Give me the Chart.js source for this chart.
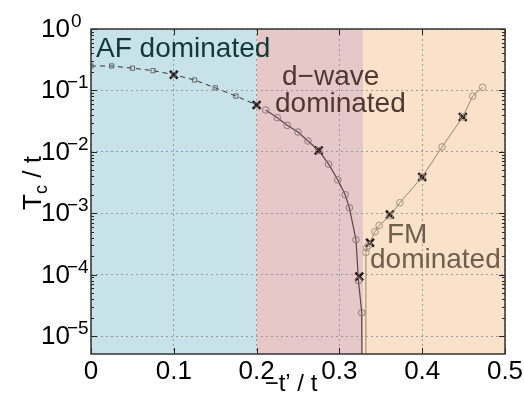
<!DOCTYPE html>
<html>
<head>
<meta charset="utf-8">
<script src="https://cdn.jsdelivr.net/npm/chart.js@4.4.1/dist/chart.umd.min.js"></script>
<style>
  body { margin: 0; background: #fff; }
  canvas { display: block; }
</style>
</head>
<body>
<canvas id="myChart" width="524" height="403"></canvas>
<script>
// AF branch (dashed, square markers)
const afX = [0, 0.025, 0.05, 0.075, 0.1, 0.125, 0.15, 0.175, 0.2];
const afY = [0.25, 0.25, 0.23, 0.21, 0.18, 0.148, 0.11, 0.081, 0.058];

// d-wave branch, last point falls off the bottom of the axis
const dwX = [0.211, 0.225, 0.237, 0.25, 0.262, 0.275, 0.287, 0.298, 0.307, 0.312, 0.32, 0.323, 0.327, 0.3275];
const dwY = [0.048, 0.036, 0.027, 0.021, 0.015, 0.0105, 0.0063, 0.0035, 0.002, 0.00123, 0.00037, 0.00008, 0.000024, 1e-7];

// FM branch, first point comes up from below the axis
const fmX = [0.332, 0.332, 0.333, 0.335, 0.343, 0.348, 0.361, 0.373, 0.4, 0.424, 0.449, 0.461, 0.473];
const fmY = [1e-7, 0.00023, 0.000275, 0.0003, 0.0005, 0.00063, 0.00091, 0.00148, 0.0039, 0.012, 0.037, 0.081, 0.112];

// X markers
const crossX = [0.1, 0.2, 0.275, 0.324, 0.337, 0.361, 0.4, 0.449];
const crossY = [0.18, 0.058, 0.0105, 0.000093, 0.00033, 0.00095, 0.0039, 0.037];

// shaded regions: [from, to, colour]
const regions = [
    [0, 0.2, '#c7e3e9'],
    [0.2, 0.329, '#e6c8c9'],
    [0.329, 0.5, '#f9e1ca']
];

const xTicks = [0, 0.1, 0.2, 0.3, 0.4, 0.5];
const yTicks = [1, 0.1, 0.01, 0.001, 0.0001, 0.00001];

const FONT = '"Liberation Sans", Arial, sans-serif';

function pts(xs, ys) {
    return xs.map((x, i) => ({ x: x, y: ys[i] }));
}

const decor = {
    id: 'decor',
    beforeDraw(chart) {
        const ctx = chart.ctx;
        const a = chart.chartArea;
        const x = chart.scales.x;
        ctx.save();
        ctx.fillStyle = '#fff';
        ctx.fillRect(0, 0, chart.width, chart.height);
        regions.forEach(r => {
            const x0 = x.getPixelForValue(r[0]);
            const x1 = x.getPixelForValue(r[1]);
            ctx.fillStyle = r[2];
            ctx.fillRect(x0, a.top, x1 - x0, a.bottom - a.top);
        });
        ctx.restore();
    },
    afterDraw(chart) {
        const ctx = chart.ctx;
        const a = chart.chartArea;
        const x = chart.scales.x;
        const y = chart.scales.y;
        ctx.save();

        // inward tick marks
        ctx.strokeStyle = '#222';
        ctx.lineWidth = 1;
        ctx.beginPath();
        xTicks.forEach(v => {
            const p = Math.round(x.getPixelForValue(v)) + 0.5;
            ctx.moveTo(p, a.bottom); ctx.lineTo(p, a.bottom - 6);
            ctx.moveTo(p, a.top); ctx.lineTo(p, a.top + 6);
        });
        yTicks.forEach(v => {
            for (let k = 1; k <= 9; k++) {
                const val = v * k;
                if (val > y.max || val < y.min) continue;
                const p = Math.round(y.getPixelForValue(val)) + 0.5;
                const len = k === 1 ? 6 : 3;
                ctx.moveTo(a.left, p); ctx.lineTo(a.left + len, p);
                ctx.moveTo(a.right, p); ctx.lineTo(a.right - len, p);
            }
        });
        ctx.stroke();

        // frame
        ctx.strokeStyle = '#333';
        ctx.lineWidth = 1.5;
        ctx.strokeRect(a.left, a.top, a.right - a.left, a.bottom - a.top);

        // y tick labels 10^n
        ctx.fillStyle = '#000';
        yTicks.forEach(v => {
            const p = y.getPixelForValue(v);
            const e = Math.round(Math.log10(v));
            ctx.font = '26px ' + FONT;
            ctx.textAlign = 'right';
            ctx.textBaseline = 'alphabetic';
            ctx.fillText('10', 70, p + 8);
            ctx.font = '19px ' + FONT;
            ctx.textAlign = 'left';
            ctx.fillText(e === 0 ? '0' : '\u2212' + Math.abs(e), e === 0 ? 71 : 67, p - 2);
        });

        // x tick labels
        ctx.font = '26px ' + FONT;
        ctx.textAlign = 'center';
        xTicks.forEach(v => {
            ctx.fillText(String(v), x.getPixelForValue(v), 379);
        });

        // x title
        ctx.font = '24px ' + FONT;
        ctx.fillText('\u2212t\u2019 / t', 291, 391);

        // y title, rotated, with subscript
        ctx.save();
        ctx.translate(41, 183);
        ctx.rotate(-Math.PI / 2);
        ctx.textAlign = 'left';
        ctx.font = '26px ' + FONT;
        const wT = ctx.measureText('T').width;
        const wR = ctx.measureText(' / t').width;
        ctx.font = '18px ' + FONT;
        const wC = ctx.measureText('c').width;
        let sx = -(wT + wC + wR) / 2;
        ctx.font = '26px ' + FONT;
        ctx.fillText('T', sx, 0);
        ctx.font = '18px ' + FONT;
        ctx.fillText('c', sx + wT, 6);
        ctx.font = '26px ' + FONT;
        ctx.fillText(' / t', sx + wT + wC, 0);
        ctx.restore();

        // region labels
        ctx.textAlign = 'left';
        ctx.font = '28px ' + FONT;
        ctx.fillStyle = '#123838';
        ctx.fillText('AF dominated', 96, 57);
        ctx.fillStyle = '#4d3832';
        ctx.fillText('d\u2212wave', 282, 85);
        ctx.fillText('dominated', 275, 112);
        ctx.fillStyle = '#6e5f50';
        ctx.fillText('FM', 387, 243);
        ctx.fillText('dominated', 370, 268);

        ctx.restore();
    }
};

const offAxis = c => (c.raw && c.raw.y < 1e-6 ? 0 : 3.3);

new Chart(document.getElementById('myChart'), {
    type: 'scatter',
    data: {
        datasets: [
            {
                label: 'AF',
                data: pts(afX, afY),
                showLine: true,
                borderColor: '#333',
                borderWidth: 1,
                borderDash: [5, 4],
                pointStyle: 'rect',
                pointRadius: 3,
                pointBorderColor: '#666',
                pointBorderWidth: 1,
                pointBackgroundColor: 'rgba(0,0,0,0)'
            },
            {
                label: 'd-wave',
                data: pts(dwX, dwY),
                showLine: true,
                borderColor: '#5a4646',
                borderWidth: 1.2,
                pointStyle: 'circle',
                pointRadius: offAxis,
                pointBorderColor: '#8c7676',
                pointBorderWidth: 1,
                pointBackgroundColor: 'rgba(0,0,0,0)'
            },
            {
                label: 'FM',
                data: pts(fmX, fmY),
                showLine: true,
                borderColor: '#978674',
                borderWidth: 1,
                pointStyle: 'circle',
                pointRadius: offAxis,
                pointBorderColor: '#a49282',
                pointBorderWidth: 1,
                pointBackgroundColor: 'rgba(0,0,0,0)'
            },
            {
                label: 'cross',
                data: pts(crossX, crossY),
                showLine: false,
                pointStyle: 'crossRot',
                pointRadius: 5.5,
                pointBorderColor: '#1e1414',
                pointBorderWidth: 2.4
            }
        ]
    },
    options: {
        responsive: false,
        devicePixelRatio: 1,
        animation: false,
        layout: { padding: { left: 91, top: 29, right: 19, bottom: 49 } },
        plugins: {
            legend: { display: false },
            tooltip: { enabled: false }
        },
        scales: {
            x: {
                type: 'linear',
                min: 0,
                max: 0.5,
                afterBuildTicks: s => { s.ticks = xTicks.map(v => ({ value: v })); },
                ticks: { display: false },
                grid: { color: '#999', drawTicks: false, lineWidth: 1 },
                border: { display: false, dash: [2, 3] }
            },
            y: {
                type: 'logarithmic',
                min: 5.1e-6,
                max: 1,
                afterBuildTicks: s => { s.ticks = yTicks.map(v => ({ value: v })); },
                ticks: { display: false },
                grid: { color: '#999', drawTicks: false, lineWidth: 1 },
                border: { display: false, dash: [2, 3] }
            }
        }
    },
    plugins: [decor]
});
</script>
</body>
</html>
